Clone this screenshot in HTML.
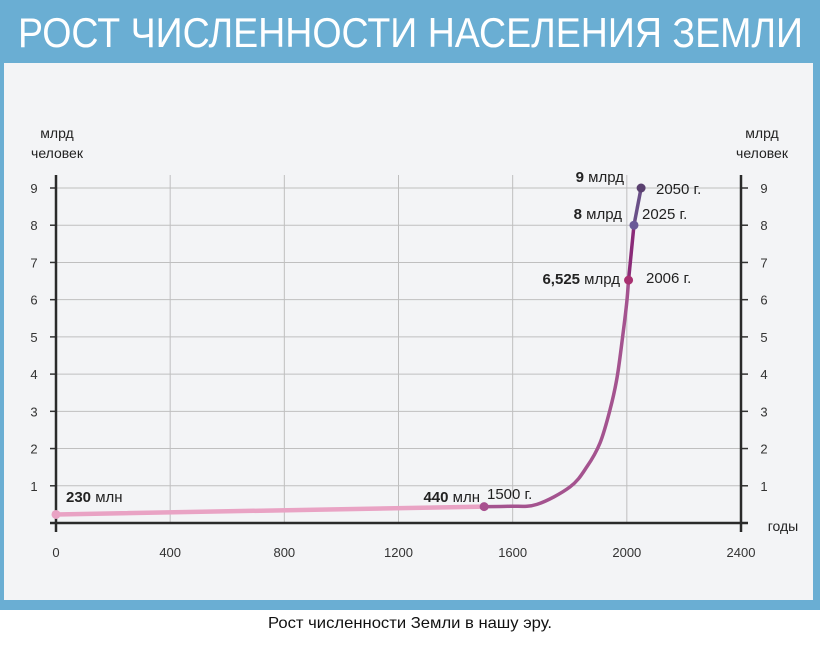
<!DOCTYPE html>
<html><head><meta charset="utf-8"><style>
html,body{margin:0;padding:0;background:#fff;}
svg{display:block;font-family:"Liberation Sans",sans-serif;}
</style></head><body>
<svg id="c" width="820" height="647" viewBox="0 0 820 647">
<rect x="0" y="0" width="820" height="610" fill="#6aaed3"/>
<rect x="4" y="63" width="809" height="537" fill="#f3f4f6"/>
<text x="18" y="47" font-size="42" fill="#fff" textLength="785" lengthAdjust="spacingAndGlyphs">РОСТ ЧИСЛЕННОСТИ НАСЕЛЕНИЯ ЗЕМЛИ</text>
<text x="410" y="628" font-size="16" fill="#111" text-anchor="middle" textLength="284" lengthAdjust="spacingAndGlyphs">Рост численности Земли в нашу эру.</text>
<g id="grid"></g><g id="axes"></g><g id="marks"></g><g id="labels"></g>
</svg>
<script>
const xTicks=[0,400,800,1200,1600,2000,2400];
const yTicks=[1,2,3,4,5,6,7,8,9];
const earlyYears=[0,1500];
const earlyValues=[0.23,0.44];
const curveYears=[1500,1591,1685,1801,1860,1906,1941,1966,1987,2000,2006];
const curveValues=[0.44,0.45,0.5,0.97,1.51,2.15,3.04,3.92,5.11,5.95,6.525];
const keyYears=[0,1500,2006,2025,2050];
const keyValues=[0.23,0.44,6.525,8,9];
const keyColors=['#e9a3c4','#a8508f','#a83070','#6a5a98','#5a4070'];
const NS='http://www.w3.org/2000/svg';
const X=y=>56+(y-0)*(741-56)/2400;
const Y=v=>523-v*(523-188)/9;
function mk(parent,tag,attrs){const e=document.createElementNS(NS,tag);for(const k in attrs)e.setAttribute(k,attrs[k]);document.getElementById(parent).appendChild(e);return e;}
xTicks.forEach(t=>{if(t>0&&t<2400){const l=mk('grid','line',{x1:X(t),x2:X(t),y1:175,y2:523,stroke:'#bfbfbf','stroke-width':1});

}
const tx=mk('grid','text',{x:X(t),y:557,'font-size':13,fill:'#333','text-anchor':'middle'});tx.textContent=t;

});
yTicks.forEach(v=>{const l=mk('grid','line',{x1:X(0),x2:X(2400),y1:Y(v),y2:Y(v),stroke:'#bfbfbf','stroke-width':1});


mk('grid','line',{x1:50,x2:56,y1:Y(v),y2:Y(v),stroke:'#333','stroke-width':1.5});
mk('grid','line',{x1:741,x2:748,y1:Y(v),y2:Y(v),stroke:'#333','stroke-width':1.5});
const a=mk('grid','text',{x:34,y:Y(v)+5,'font-size':13,fill:'#333','text-anchor':'middle'});a.textContent=v;


const b=mk('grid','text',{x:764,y:Y(v)+5,'font-size':13,fill:'#333','text-anchor':'middle'});b.textContent=v;

});
const ax=[[56,175,56,532,'y-axis-left'],[741,175,741,532,'y-axis-right'],[50,523,748,523,'x-axis']];
ax.forEach(a=>{const l=mk('axes','line',{x1:a[0],y1:a[1],x2:a[2],y2:a[3],stroke:'#2a2a2a','stroke-width':2.5});

});
[['млрд',57,138,'y-axis-title-left'],['человек',57,158,'y-axis-title-left-2'],['млрд',762,138,'y-axis-title-right'],['человек',762,158,'y-axis-title-right-2'],['годы',783,531,'x-axis-title']].forEach(t=>{
const e=mk('axes','text',{x:t[1],y:t[2],'font-size':14,fill:'#222','text-anchor':'middle'});e.textContent=t[0];

});
const early=mk('marks','polyline',{points:earlyYears.map((y,i)=>X(y)+','+Y(earlyValues[i])).join(' '),fill:'none',stroke:'#e9a3c4','stroke-width':4.5,'stroke-linecap':'round'});


const P=curveYears.map((y,i)=>[X(y),Y(curveValues[i])]);
let d='M'+P[0][0]+' '+P[0][1];
for(let i=0;i<P.length-1;i++){const p0=P[Math.max(i-1,0)],p1=P[i],p2=P[i+1],p3=P[Math.min(i+2,P.length-1)];
const c1=[p1[0]+(p2[0]-p0[0])/6,p1[1]+(p2[1]-p0[1])/6],c2=[p2[0]-(p3[0]-p1[0])/6,p2[1]-(p3[1]-p1[1])/6];
d+=' C'+c1[0]+' '+c1[1]+' '+c2[0]+' '+c2[1]+' '+p2[0]+' '+p2[1];}
const cur=mk('marks','path',{d:d,fill:'none',stroke:'#a4538f','stroke-width':3.5,'stroke-linejoin':'round'});


const s1=mk('marks','line',{x1:X(keyYears[2]),y1:Y(keyValues[2]),x2:X(keyYears[3]),y2:Y(keyValues[3]),stroke:'#8a2a78','stroke-width':3.5});


const s2=mk('marks','line',{x1:X(keyYears[3]),y1:Y(keyValues[3]),x2:X(keyYears[4]),y2:Y(keyValues[4]),stroke:'#6a5088','stroke-width':3.5});


keyYears.forEach((y,i)=>{const c=mk('marks','circle',{cx:X(y),cy:Y(keyValues[i]),r:4.5,fill:keyColors[i]});

});
const lbl=[['230',' млн',66,502,'start',''],['440',' млн',480,502,'end','1500 г.'],['6,525',' млрд',620,284,'end','2006 г.'],['8',' млрд',622,219,'end','2025 г.'],['9',' млрд',624,182,'end','2050 г.']];
const yrX=[0,487,646,642,656];const yrY=[0,499,283,219,194];
lbl.forEach((l,i)=>{const t=mk('labels','text',{x:l[2],y:l[3],'font-size':15,fill:'#222','text-anchor':l[4]});
t.innerHTML='<tspan font-weight="bold">'+l[0]+'</tspan>'+l[1];


if(l[5]){const u=mk('labels','text',{x:yrX[i],y:yrY[i],'font-size':15,fill:'#222'});u.textContent=l[5];

}});
</script>
</body></html>
